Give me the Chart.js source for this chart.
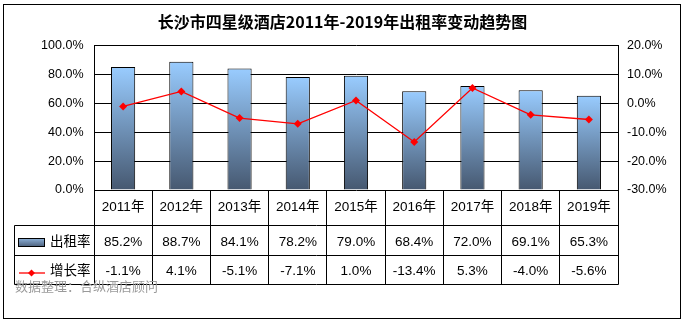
<!DOCTYPE html>
<html>
<head>
<meta charset="utf-8">
<script src="https://cdn.jsdelivr.net/npm/chart.js@4.4.1/dist/chart.umd.min.js"></script>
<style>
  html, body { margin: 0; padding: 0; background: #fff; }
  #wrap { width: 685px; height: 323px; }
</style>
</head>
<body>
<div id="wrap"><canvas id="chart" width="685" height="323"></canvas></div>
<script>
// data
const years = ['2011年', '2012年', '2013年', '2014年', '2015年', '2016年', '2017年', '2018年', '2019年'];
const occupancy = [85.2, 88.7, 84.1, 78.2, 79.0, 68.4, 72.0, 69.1, 65.3];
const growth = [-1.1, 4.1, -5.1, -7.1, 1.0, -13.4, 5.3, -4.0, -5.6];
const seriesNames = ['出租率', '增长率'];
const leftTicks = [0, 20, 40, 60, 80, 100];
const rightTicks = [-30, -20, -10, 0, 10, 20];
const titleText = '长沙市四星级酒店2011年-2019年出租率变动趋势图';
const sourceText = '数据整理：合纵酒店顾问';

const tickFont = { family: '"Liberation Sans", Arial, sans-serif', size: 12.5 };
const tableFont = '13.5px "Liberation Sans", "Noto Sans CJK SC", sans-serif';

function barFill(ctx) {
  const chart = ctx.chart;
  if (!chart.chartArea || ctx.type !== 'data') return '#8fb4e0';
  const y = chart.scales.y;
  const top = y.getPixelForValue(ctx.raw);
  const bottom = y.getPixelForValue(0);
  const g = chart.ctx.createLinearGradient(0, top, 0, bottom);
  g.addColorStop(0, '#99CCFF');
  g.addColorStop(1, '#465870');
  return g;
}

const crisp = v => Math.round(v - 0.5) + 0.5;

const tablePlugin = {
  id: 'tablePlugin',
  afterDraw(chart) {
    const ctx = chart.ctx;
    const area = chart.chartArea;
    const x = chart.scales.x;
    const colW = x.getPixelForValue(1) - x.getPixelForValue(0);
    const left = 14.5;
    const rows = [crisp(area.bottom), 225.5, 255.5, 284.5];

    ctx.save();
    // title
    ctx.fillStyle = '#000';
    ctx.font = 'bold 16px "Noto Sans CJK SC", sans-serif';
    ctx.textAlign = 'center';
    ctx.textBaseline = 'middle';
    ctx.fillText(titleText, chart.width / 2, 21.5);

    // table grid
    ctx.strokeStyle = '#000';
    ctx.lineWidth = 1;
    ctx.beginPath();
    const right = crisp(x.getPixelForValue(years.length - 1) + colW / 2);
    for (let r = 1; r < rows.length; r++) {
      ctx.moveTo(left, rows[r]);
      ctx.lineTo(right, rows[r]);
    }
    for (let i = 0; i <= years.length; i++) {
      const xx = crisp(x.getPixelForValue(i) - colW / 2);
      ctx.moveTo(xx, rows[0]);
      ctx.lineTo(xx, rows[3]);
    }
    ctx.moveTo(left, rows[1]);
    ctx.lineTo(left, rows[3]);
    ctx.stroke();

    // cell texts
    ctx.font = tableFont;
    ctx.fillStyle = '#000';
    years.forEach((yr, i) => {
      const cx = x.getPixelForValue(i);
      ctx.fillText(yr, cx, 207.5);
      ctx.fillText(occupancy[i].toFixed(1) + '%', cx, 242);
      ctx.fillText(growth[i].toFixed(1) + '%', cx, 271.5);
    });

    // legend keys in first column
    const g = ctx.createLinearGradient(0, 238, 0, 247);
    g.addColorStop(0, '#8fb4dc');
    g.addColorStop(1, '#4a5d78');
    ctx.fillStyle = g;
    ctx.fillRect(18.5, 238.5, 26, 8);
    ctx.strokeRect(18.5, 238.5, 26, 8);

    ctx.strokeStyle = '#FF0000';
    ctx.lineWidth = 1.3;
    ctx.beginPath();
    ctx.moveTo(19, 273);
    ctx.lineTo(45, 273);
    ctx.stroke();
    ctx.fillStyle = '#FF0000';
    ctx.beginPath();
    ctx.moveTo(31.5, 269.5);
    ctx.lineTo(35, 273);
    ctx.lineTo(31.5, 276.5);
    ctx.lineTo(28, 273);
    ctx.closePath();
    ctx.fill();

    ctx.fillStyle = '#000';
    ctx.textAlign = 'left';
    ctx.fillText(seriesNames[0], 50, 242);
    ctx.fillText(seriesNames[1], 50, 271.5);

    // source note
    ctx.fillStyle = '#9a9a9a';
    ctx.font = '13px "Noto Sans CJK SC", sans-serif';
    ctx.fillText(sourceText, 15, 286);

    // outer frame
    ctx.strokeStyle = '#000';
    ctx.lineWidth = 1;
    ctx.strokeRect(3.5, 4.5, 677, 314);
    ctx.restore();
  }
};

new Chart(document.getElementById('chart'), {
  data: {
    labels: years,
    datasets: [
      {
        type: 'line',
        label: seriesNames[1],
        data: growth,
        yAxisID: 'y2',
        order: 0,
        borderColor: '#FF0000',
        borderWidth: 1.3,
        backgroundColor: '#FF0000',
        pointStyle: 'rectRot',
        pointRadius: 4,
        pointBorderWidth: 0,
        tension: 0
      },
      {
        type: 'bar',
        label: seriesNames[0],
        data: occupancy,
        yAxisID: 'y',
        order: 1,
        backgroundColor: barFill,
        borderColor: '#000',
        borderWidth: 1,
        barPercentage: 0.415,
        categoryPercentage: 1
      }
    ]
  },
  options: {
    responsive: false,
    animation: false,
    devicePixelRatio: 1,
    layout: { padding: { top: 45.5, bottom: 133, left: 0, right: 0 } },
    plugins: {
      legend: { display: false },
      tooltip: { enabled: false },
      title: { display: false }
    },
    scales: {
      x: {
        display: false,
        offset: true
      },
      y: {
        position: 'left',
        min: leftTicks[0],
        max: leftTicks[leftTicks.length - 1],
        afterBuildTicks: s => { s.ticks = leftTicks.map(v => ({ value: v })); },
        afterFit: s => { s.width = 94; },
        grid: { color: '#000', lineWidth: 1, drawTicks: false },
        border: { display: true, color: '#000', width: 1 },
        ticks: {
          padding: 10.5,
          color: '#000',
          font: tickFont,
          callback: v => v.toFixed(1) + '%'
        }
      },
      y2: {
        position: 'right',
        min: rightTicks[0],
        max: rightTicks[rightTicks.length - 1],
        afterBuildTicks: s => { s.ticks = rightTicks.map(v => ({ value: v })); },
        afterFit: s => { s.width = 685 - 618; },
        grid: { display: false, drawTicks: false },
        border: { display: true, color: '#000', width: 1 },
        ticks: {
          padding: 9,
          color: '#000',
          font: tickFont,
          callback: v => v.toFixed(1) + '%'
        }
      }
    }
  },
  plugins: [tablePlugin]
});
</script>
</body>
</html>
